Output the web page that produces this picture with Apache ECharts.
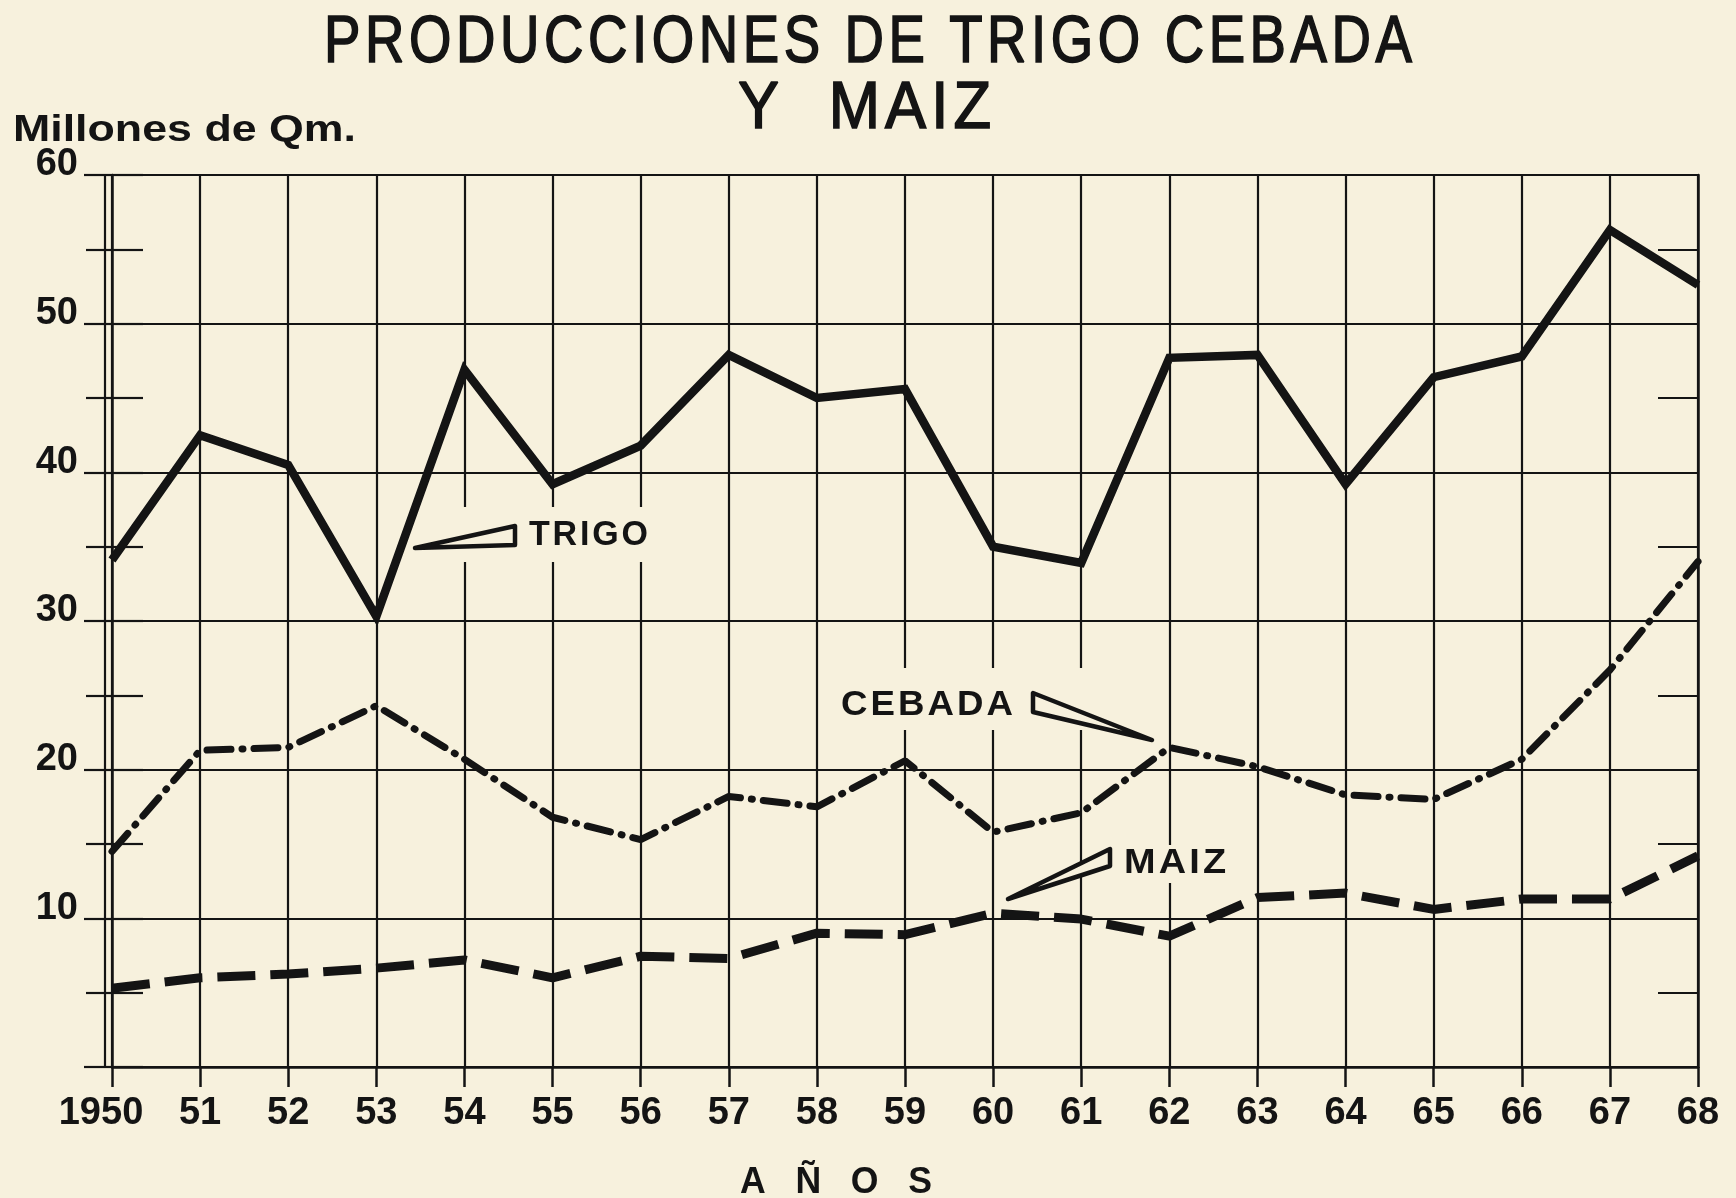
<!DOCTYPE html>
<html>
<head>
<meta charset="utf-8">
<script src="https://cdn.jsdelivr.net/npm/echarts@6/dist/echarts.min.js"></script>
<style>
  html, body { margin: 0; padding: 0; background: #f7f1dd; }
  #chart { width: 1736px; height: 1198px; }
</style>
</head>
<body>
<div id="chart"></div>
<script>
// años 1950 - 1968
const years = ['1950', '51', '52', '53', '54', '55', '56', '57', '58', '59',
  '60', '61', '62', '63', '64', '65', '66', '67', '68'];

// millones de Qm
const trigo = [34.1, 42.5, 40.5, 30.3, 46.9, 39.2, 41.8, 47.9, 45.0, 45.6,
  35.0, 33.9, 47.7, 47.9, 39.2, 46.4, 47.8, 56.3, 52.6];
const cebada = [14.5, 21.3, 21.5, 24.3, 20.7, 16.8, 15.3, 18.2, 17.5, 20.6,
  15.8, 17.1, 21.5, 20.2, 18.3, 18.0, 20.7, 26.7, 34.0];
const maiz = [5.3, 6.0, 6.25, 6.65, 7.2, 6.0, 7.45, 7.3, 9.0, 8.9,
  10.35, 9.95, 8.8, 11.4, 11.7, 10.6, 11.3, 11.3, 14.2];

const ink = '#141414';
const paper = '#f7f1dd';
const labelFont = 'Liberation Sans';

// para ajustar el ancho de los rótulos al original
const measureCtx = document.createElement('canvas').getContext('2d');
function fitScale(text, font, width) {
  measureCtx.font = font;
  return width / measureCtx.measureText(text).width;
}

// espaciado entre letras (espacio ultrafino)
function spaced(text) {
  return text.split('').join('\u200A');
}

// rótulo de texto: x a la izquierda, y al centro, ancho objetivo
function label(text, font, x, y, width, z, stroke) {
  const style = { text: text, fill: ink, font: font, textAlign: 'left', textVerticalAlign: 'middle' };
  if (stroke) {
    style.stroke = ink;
    style.lineWidth = stroke;
  }
  return {
    type: 'text', x: x, y: y, z: z || 3,
    scaleX: fitScale(text, font, width),
    style: style
  };
}

const chart = echarts.init(document.getElementById('chart'));

const option = {
  backgroundColor: paper,
  animation: false,
  grid: { left: 112, right: 38, top: 175, bottom: 131 },
  xAxis: [
    {
      type: 'category',
      data: years,
      boundaryGap: false,
      axisLine: { lineStyle: { color: ink, width: 2.5 } },
      axisTick: { show: true, interval: 0, length: 20, lineStyle: { color: ink, width: 2.5 } },
      axisLabel: {
        interval: 0, color: ink, fontFamily: labelFont, fontWeight: 'bold', fontSize: 38, margin: 28,
        formatter: (v, i) => (i === 0 ? '{a|' + v + '}' : v),
        rich: { a: { fontFamily: labelFont, fontWeight: 'bold', fontSize: 38, color: ink, padding: [0, 22, 0, 0] } }
      },
      splitLine: { show: true, interval: 0, lineStyle: { color: ink, width: 2.2 } }
    },
    {
      type: 'category',
      data: years,
      boundaryGap: false,
      position: 'bottom',
      offset: 6,
      axisLine: { lineStyle: { color: ink, width: 2.2 } },
      axisTick: { show: false },
      axisLabel: { show: false },
      splitLine: { show: false }
    }
  ],
  yAxis: [
    {
      type: 'value',
      min: 0,
      max: 60,
      interval: 10,
      axisLine: { show: true, lineStyle: { color: ink, width: 2.5 } },
      axisTick: { show: true, length: 28, lineStyle: { color: ink, width: 2.2 } },
      minorTick: { show: true, splitNumber: 2, length: 26, lineStyle: { color: ink, width: 2.2 } },
      axisLabel: {
        color: ink, fontFamily: labelFont, fontWeight: 'bold', fontSize: 38,
        margin: 34, verticalAlign: 'bottom', lineHeight: 20,
        formatter: v => (v === 0 ? '' : String(v))
      },
      splitLine: { show: true, lineStyle: { color: ink, width: 2.2 } }
    },
    {
      type: 'value',
      min: 0,
      max: 60,
      interval: 10,
      position: 'left',
      offset: 7,
      axisLine: { show: true, lineStyle: { color: ink, width: 2.2 } },
      axisTick: { show: false },
      axisLabel: { show: false },
      splitLine: { show: false }
    },
    {
      type: 'value',
      min: 0,
      max: 60,
      interval: 5,
      position: 'left',
      axisLine: { show: false },
      axisTick: { show: true, inside: true, length: 31, lineStyle: { color: ink, width: 2.2 } },
      axisLabel: { show: false },
      splitLine: { show: false }
    },
    {
      type: 'value',
      min: 0,
      max: 60,
      interval: 5,
      position: 'right',
      axisLine: { show: true, lineStyle: { color: ink, width: 2.5 } },
      axisTick: { show: true, inside: true, length: 40, lineStyle: { color: ink, width: 2.2 } },
      axisLabel: { show: false },
      splitLine: { show: false }
    }
  ],
  series: [
    {
      name: 'TRIGO',
      type: 'line',
      data: trigo,
      symbol: 'none',
      z: 5,
      lineStyle: { color: ink, width: 8.5, join: 'miter' }
    },
    {
      name: 'CEBADA',
      type: 'line',
      data: cebada,
      symbol: 'none',
      z: 5,
      lineStyle: { color: ink, width: 7, type: [24, 11, 1, 11], cap: 'round' }
    },
    {
      name: 'MAIZ',
      type: 'line',
      data: maiz,
      symbol: 'none',
      z: 5,
      lineStyle: { color: ink, width: 9, type: [38, 15] }
    }
  ],
  graphic: [
    // títulos
    label(spaced('PRODUCCIONES DE TRIGO CEBADA'), '66px "Liberation Sans"', 324, 44, 1088, 10, 1.6),
    label(spaced('Y  MAIZ'), '66px "Liberation Sans"', 738, 110, 253, 10, 1.6),
    label('Millones de Qm.', 'bold 36px "Liberation Sans"', 13, 131, 343, 10),
    label('A   Ñ   O   S', 'bold 36px "Liberation Sans"', 740, 1183, 192, 10),
    // fondos de las leyendas
    { type: 'rect', z: 1, shape: { x: 418, y: 507, width: 240, height: 55 }, style: { fill: paper } },
    { type: 'rect', z: 1, shape: { x: 836, y: 668, width: 262, height: 62 }, style: { fill: paper } },
    { type: 'rect', z: 1, shape: { x: 1116, y: 845, width: 116, height: 38 }, style: { fill: paper } },
    // flechas
    {
      type: 'polygon', z: 3,
      shape: { points: [[415, 548], [515, 526], [515, 545]] },
      style: { fill: paper, stroke: ink, lineWidth: 4.5, lineJoin: 'round' }
    },
    {
      type: 'polygon', z: 3,
      shape: { points: [[1033, 693], [1033, 712], [1152, 740]] },
      style: { fill: paper, stroke: ink, lineWidth: 4.5, lineJoin: 'round' }
    },
    {
      type: 'polygon', z: 3,
      shape: { points: [[1110, 849], [1110, 866], [1008, 899]] },
      style: { fill: paper, stroke: ink, lineWidth: 4.5, lineJoin: 'round' }
    },
    // textos de las series
    label(spaced('TRIGO'), 'bold 35px "Liberation Sans"', 529, 535, 119),
    label(spaced('CEBADA'), 'bold 35px "Liberation Sans"', 841, 705, 172),
    label(spaced('MAIZ'), 'bold 35px "Liberation Sans"', 1124, 863, 102)
  ]
};

chart.setOption(option);
</script>
</body>
</html>
